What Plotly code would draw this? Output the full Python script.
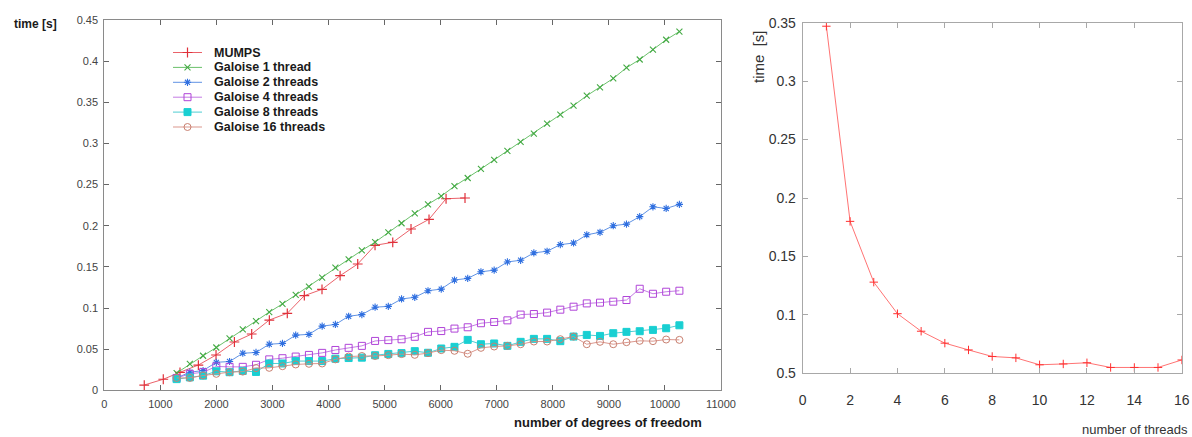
import plotly.graph_objects as go

# ---------------- data: left panel ----------------
dof = [1290, 1526, 1762, 1998, 2234, 2470, 2706, 2942, 3178, 3414, 3650, 3886, 4122,
       4358, 4594, 4830, 5066, 5302, 5538, 5774, 6010, 6246, 6482, 6718, 6954, 7190,
       7426, 7662, 7898, 8134, 8370, 8606, 8842, 9078, 9314, 9550, 9786, 10022, 10258]

mumps_dof = [713, 1052, 1350, 1678, 1993, 2321, 2629, 2944, 3264, 3568, 3883, 4206,
             4520, 4829, 5145, 5471, 5792, 6096, 6434]
mumps_time = [0.0064, 0.0134, 0.0219, 0.0307, 0.0429, 0.0587, 0.0684, 0.0854, 0.0936,
              0.115, 0.1227, 0.1393, 0.1535, 0.1762, 0.1798, 0.196, 0.2078, 0.2328, 0.2337]

galois_1 = [0.021, 0.032, 0.042, 0.052, 0.063, 0.074, 0.084, 0.095, 0.105, 0.116, 0.126,
            0.137, 0.149, 0.159, 0.170, 0.180, 0.192, 0.203, 0.215, 0.226, 0.236, 0.248,
            0.258, 0.269, 0.280, 0.291, 0.302, 0.312, 0.324, 0.335, 0.346, 0.358, 0.368,
            0.379, 0.392, 0.402, 0.414, 0.426, 0.436]
galois_2 = [0.015, 0.022, 0.024, 0.034, 0.035, 0.045, 0.046, 0.056, 0.057, 0.067, 0.068,
            0.078, 0.080, 0.090, 0.092, 0.101, 0.102, 0.111, 0.113, 0.121, 0.123, 0.134,
            0.136, 0.144, 0.146, 0.156, 0.158, 0.167, 0.169, 0.177, 0.179, 0.189, 0.192,
            0.200, 0.202, 0.211, 0.223, 0.221, 0.226]
galois_4 = [0.015, 0.020, 0.022, 0.029, 0.0285, 0.0285, 0.031, 0.0376, 0.039, 0.041, 0.043,
            0.0455, 0.049, 0.0516, 0.054, 0.060, 0.061, 0.062, 0.065, 0.071, 0.072, 0.075,
            0.0766, 0.0815, 0.083, 0.085, 0.092, 0.0927, 0.0944, 0.098, 0.1016, 0.1056,
            0.1065, 0.1077, 0.1097, 0.1234, 0.1173, 0.1198, 0.121]
galois_8 = [0.0136, 0.0157, 0.0178, 0.0231, 0.022, 0.0236, 0.0223, 0.0326, 0.0326, 0.0355,
            0.0355, 0.0355, 0.0384, 0.0392, 0.0397, 0.0426, 0.0442, 0.0452, 0.0476, 0.0456,
            0.0508, 0.0528, 0.0613, 0.056, 0.0569, 0.054, 0.0589, 0.0625, 0.0625, 0.0597,
            0.0653, 0.0673, 0.0661, 0.0694, 0.071, 0.0718, 0.0734, 0.0754, 0.079]
galois_16 = [0.015, 0.015, 0.018, 0.020, 0.022, 0.0227, 0.027, 0.0273, 0.0293, 0.0314,
             0.0322, 0.0326, 0.0376, 0.041, 0.0417, 0.0417, 0.0427, 0.044, 0.0431, 0.0452,
             0.0488, 0.048, 0.0444, 0.0516, 0.0532, 0.054, 0.056, 0.0593, 0.0593, 0.0621,
             0.0653, 0.056, 0.0589, 0.056, 0.0585, 0.0601, 0.0597, 0.0617, 0.0613]

series_names = ["MUMPS", "Galoise 1 thread", "Galoise 2 threads", "Galoise 4 threads",
                "Galoise 8 threads", "Galoise 16 threads"]

left_yticks = [0, 0.05, 0.1, 0.15, 0.2, 0.25, 0.3, 0.35, 0.4, 0.45]
left_yticktext = ["0", "0.05", "0.1", "0.15", "0.2", "0.25", "0.3", "0.35", "0.4", "0.45"]
left_xticks = [0, 1000, 2000, 3000, 4000, 5000, 6000, 7000, 8000, 9000, 10000, 11000]

# ---------------- data: right panel ----------------
threads = [1, 2, 3, 4, 5, 6, 7, 8, 9, 10, 11, 12, 13, 14, 15, 16]
thread_time = [0.347, 0.180, 0.128, 0.101, 0.086, 0.0758, 0.070, 0.0644, 0.0632,
               0.0573, 0.058, 0.059, 0.055, 0.055, 0.055, 0.0614]
right_yticks = [0.05, 0.1, 0.15, 0.2, 0.25, 0.3, 0.35]
right_yticktext = ["0.5", "0.1", "0.15", "0.2", "0.25", "0.3", "0.35"]
right_xticks = [0, 2, 4, 6, 8, 10, 12, 14, 16]

# ---------------- styles ----------------
W, H = 1192, 437
styles = [
    dict(color="#e0303a", line="rgba(230,70,80,0.85)", symbol="cross-thin-open", size=7, lw=1.2),
    dict(color="#44aa44", line="rgba(90,185,90,0.9)", symbol="x-thin-open", size=6, lw=1.1),
    dict(color="#2f6fe0", line="rgba(80,135,225,0.9)", symbol="asterisk-open", size=6, lw=1.1),
    dict(color="#b044d8", line="rgba(190,110,225,0.9)", symbol="square-open", size=7, lw=1),
    dict(color="#19cfd2", line="rgba(60,200,205,0.9)", symbol="square", size=7, lw=1),
    dict(color="#c98070", line="rgba(215,140,130,0.9)", symbol="circle-open", size=7, lw=1),
]
xs = [mumps_dof, dof, dof, dof, dof, dof]
ys = [mumps_time, galois_1, galois_2, galois_4, galois_8, galois_16]

fig = go.Figure()
for name, x, y, st in zip(series_names, xs, ys, styles):
    fig.add_trace(go.Scatter(
        x=x, y=y, name=name, mode="lines+markers", showlegend=False,
        line=dict(color=st["line"], width=1),
        marker=dict(symbol=st["symbol"], size=st["size"], color=st["color"],
                    line=dict(color=st["color"], width=st["lw"])),
        xaxis="x", yaxis="y"))

fig.add_trace(go.Scatter(
    x=threads, y=thread_time, mode="lines+markers", showlegend=False,
    line=dict(color="rgba(255,90,90,0.85)", width=1),
    marker=dict(symbol="cross-thin-open", size=6, color="#ff3030",
                line=dict(color="#ff3030", width=1)),
    xaxis="x2", yaxis="y2"))

# ---------------- manual legend (pixel overlay) ----------------
LEG_X0, LEG_X1, LEG_TX, LEG_Y0, LEG_DY = 173, 202, 212, 52.5, 14.9
for i, (name, st) in enumerate(zip(series_names, styles)):
    yy = LEG_Y0 + i * LEG_DY
    fig.add_trace(go.Scatter(
        x=[LEG_X0, LEG_X1], y=[yy, yy], mode="lines", showlegend=False,
        line=dict(color=st["line"], width=1), xaxis="x3", yaxis="y3", hoverinfo="skip"))
    fig.add_trace(go.Scatter(
        x=[(LEG_X0 + LEG_X1) / 2], y=[yy], mode="markers", showlegend=False,
        marker=dict(symbol=st["symbol"], size=st["size"], color=st["color"],
                    line=dict(color=st["color"], width=st["lw"])),
        xaxis="x3", yaxis="y3", hoverinfo="skip"))
    fig.add_annotation(x=LEG_TX, y=yy, xref="x3", yref="y3", text=name, showarrow=False,
                       xanchor="left", yanchor="middle",
                       font=dict(family="Liberation Sans, Arial", size=12.5, color="#1a1a1a",
                                 weight="bold"))

# ---------------- layout ----------------
L_x0, L_x1, L_top, L_bot = 104.3, 721, 20, 390.3
R_x0, R_x1, R_top, R_bot = 802.7, 1181.7, 22.7, 373.3

left_font = dict(family="Liberation Sans, Arial", size=11, color="#444444")
right_font = dict(family="Liberation Sans, Arial", size=14, color="#333333")

common = dict(showgrid=False, zeroline=False, showline=True, mirror="ticks",
              ticks="inside", ticklen=5, tickwidth=1, automargin=False)

fig.update_layout(
    width=W, height=H, margin=dict(l=0, r=0, t=0, b=0, autoexpand=False),
    paper_bgcolor="white", plot_bgcolor="rgba(0,0,0,0)",
    xaxis=dict(domain=[L_x0 / W, L_x1 / W], range=[0, 11000], anchor="y",
               tickvals=left_xticks, ticktext=[str(v) for v in left_xticks],
               linecolor="#8a8a8a", tickcolor="#666666", tickfont=left_font,
               ticklabelstandoff=3, **common),
    yaxis=dict(domain=[1 - L_bot / H, 1 - L_top / H], range=[0, 0.45], anchor="x",
               tickvals=left_yticks, ticktext=left_yticktext,
               linecolor="#8a8a8a", tickcolor="#666666", tickfont=left_font,
               ticklabelstandoff=3, **common),
    xaxis2=dict(domain=[R_x0 / W, R_x1 / W], range=[0, 16], anchor="y2",
                tickvals=right_xticks, ticktext=[str(v) for v in right_xticks],
                linecolor="#a8a8a8", tickcolor="#a8a8a8", tickfont=right_font,
                ticklabelstandoff=14, **common),
    yaxis2=dict(domain=[1 - R_bot / H, 1 - R_top / H], range=[0.05, 0.35], anchor="x2",
                tickvals=right_yticks, ticktext=right_yticktext,
                linecolor="#a8a8a8", tickcolor="#a8a8a8", tickfont=right_font,
                ticklabelstandoff=3, **common),
    xaxis3=dict(domain=[0, 1], range=[0, W], visible=False, anchor="y3", fixedrange=True),
    yaxis3=dict(domain=[0, 1], range=[H, 0], visible=False, anchor="x3", fixedrange=True),
)

fig.add_annotation(x=35 / W, y=1 - 24 / H, xref="paper", yref="paper", text="time [s]",
                   showarrow=False, xanchor="center", yanchor="middle",
                   font=dict(family="Liberation Sans, Arial", size=12, color="#1a1a1a",
                             weight="bold"))
fig.add_annotation(x=608 / W, y=1 - 422 / H, xref="paper", yref="paper",
                   text="number of degrees of freedom", showarrow=False,
                   xanchor="center", yanchor="middle",
                   font=dict(family="Liberation Sans, Arial", size=13, color="#1a1a1a",
                             weight="bold"))
fig.add_annotation(x=1190 / W, y=1 - 429 / H, xref="paper", yref="paper",
                   text="number of threads", showarrow=False,
                   xanchor="right", yanchor="middle",
                   font=dict(family="Liberation Sans, Arial", size=13, color="#333333"))
fig.add_annotation(x=758 / W, y=1 - 57 / H, xref="paper", yref="paper",
                   text="time  [s]", showarrow=False, textangle=-90,
                   xanchor="center", yanchor="middle",
                   font=dict(family="Liberation Sans, Arial", size=15, color="#333333"))

fig.write_html("out.html", config={"displayModeBar": False},
               post_script="document.body.style.margin='0';document.body.style.overflow='hidden';")
